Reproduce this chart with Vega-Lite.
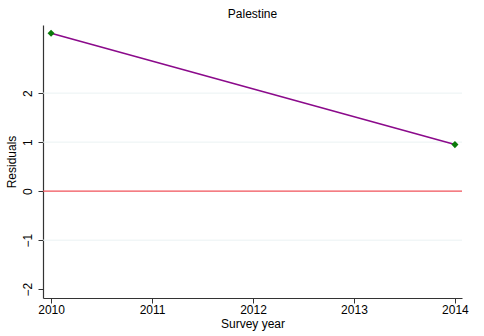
{
  "$schema": "https://vega.github.io/schema/vega-lite/v6.json",
  "width": 419,
  "height": 273,
  "autosize": {"type": "none"},
  "padding": {"left": 43, "top": 25, "right": 22, "bottom": 38},
  "background": "white",
  "config": {
    "view": {"stroke": null},
    "font": "Liberation Sans",
    "axis": {"labelFont": "Liberation Sans", "titleFont": "Liberation Sans", "labelColor": "#000", "titleColor": "#000", "domainColor": "#333", "tickColor": "#333", "labelFontSize": 12, "titleFontSize": 12, "titleFontWeight": "normal", "grid": false}
  },
  "title": {"text": "Palestine", "fontSize": 12, "fontWeight": "normal", "font": "Liberation Sans", "color": "#000", "offset": 4, "anchor": "middle"},
  "datasets": {
    "pts": [
      {"year": 2010, "residual": 3.22},
      {"year": 2014, "residual": 0.95}
    ],
    "grid": [{"g": -1}, {"g": 1}, {"g": 2}]
  },
  "layer": [
    {
      "data": {"name": "grid"},
      "mark": {"type": "rule", "color": "#eaf2f3", "strokeWidth": 1},
      "encoding": {"y": {"field": "g", "type": "quantitative", "scale": {"domain": [-2.18, 3.39], "nice": false, "zero": false}}}
    },
    {
      "data": {"values": [{"z": 0}]},
      "mark": {"type": "rule", "color": "#f0525a", "strokeWidth": 1.2},
      "encoding": {"y": {"field": "z", "type": "quantitative"}}
    },
    {
      "data": {"name": "pts"},
      "mark": {"type": "line", "color": "#8b0a8b", "strokeWidth": 1.6},
      "encoding": {
        "x": {"field": "year", "type": "quantitative", "scale": {"domain": [2009.92, 2014.07], "nice": false, "zero": false},
          "axis": {"values": [2010, 2011, 2012, 2013, 2014], "format": "d", "title": "Survey year", "tickSize": 5, "labelPadding": 1, "titlePadding": 3, "domainWidth": 1.2}},
        "y": {"field": "residual", "type": "quantitative",
          "axis": {"values": [-2, -1, 0, 1, 2], "title": "Residuals", "labelAngle": -90, "labelAlign": "center", "labelBaseline": "bottom", "tickSize": 5, "labelPadding": 4, "titlePadding": 3, "domainWidth": 1.2}}
      }
    },
    {
      "data": {"name": "pts"},
      "mark": {"type": "point", "shape": "diamond", "filled": true, "color": "#0a7a0a", "size": 50, "opacity": 1},
      "encoding": {
        "x": {"field": "year", "type": "quantitative"},
        "y": {"field": "residual", "type": "quantitative"}
      }
    }
  ]
}
